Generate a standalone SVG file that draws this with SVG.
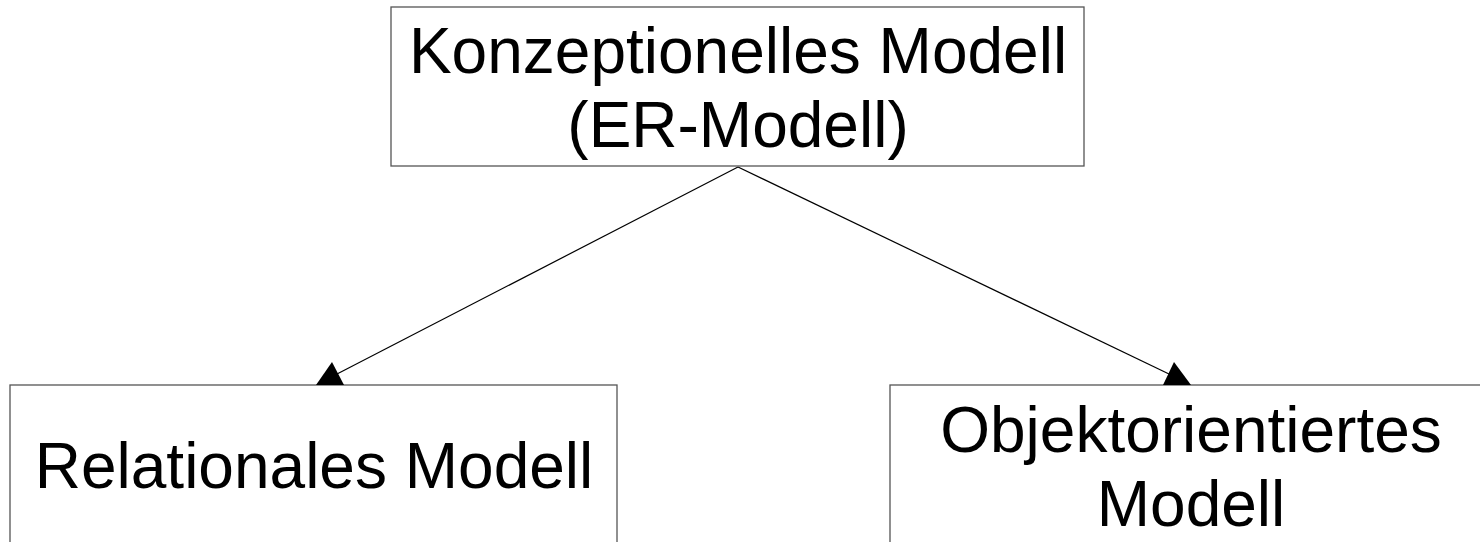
<svg xmlns="http://www.w3.org/2000/svg" width="1480" height="542" viewBox="0 0 1480 542">
  <style>
    .box { fill: #ffffff; stroke: #555555; stroke-width: 1.3; }
    .lbl { font-family: "Liberation Sans", Arial, sans-serif; font-size: 64px; fill: #000000; text-anchor: middle; }
    .conn { stroke: #000000; stroke-width: 1.2; fill: none; }
    .head { fill: #000000; stroke: none; }
  </style>
  <rect x="0" y="0" width="1480" height="542" fill="#ffffff"/>
  <g id="connectors">
    <line class="conn" x1="738" y1="167" x2="337" y2="374"/>
    <line class="conn" x1="738" y1="167" x2="1169" y2="374"/>
  </g>
  <g id="node-konzeptionell">
    <rect class="box" x="391" y="7" width="693" height="159"/>
    <text class="lbl" x="738" y="73">Konzeptionelles Modell</text>
    <text class="lbl" x="738" y="147">(ER-Modell)</text>
  </g>
  <g id="node-relational">
    <rect class="box" x="10" y="385" width="607" height="200"/>
    <text class="lbl" x="314" y="488">Relationales Modell</text>
  </g>
  <g id="node-objektorientiert">
    <rect class="box" x="890" y="385" width="602" height="200"/>
    <text class="lbl" x="1191" y="452">Objektorientiertes</text>
    <text class="lbl" x="1191" y="526">Modell</text>
  </g>
  <g id="arrowheads">
    <polygon class="head" points="332,362 344,385 316,385"/>
    <polygon class="head" points="1174,362 1191,385 1163,385"/>
  </g>
</svg>
